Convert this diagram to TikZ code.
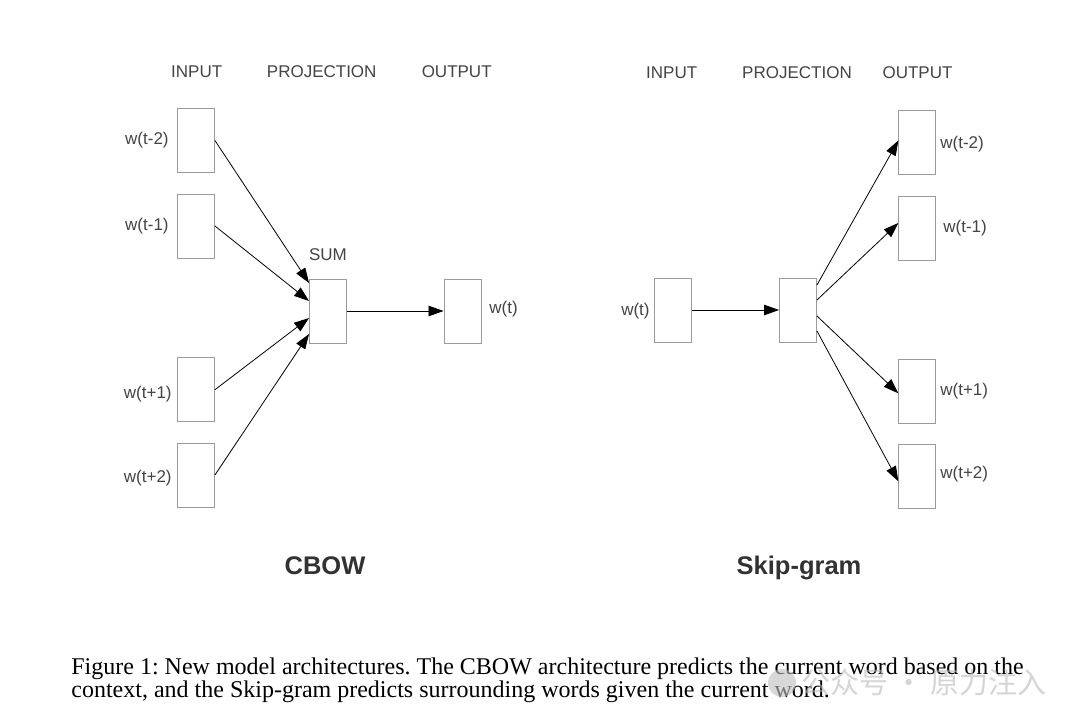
\documentclass[tikz,border=0pt]{standalone}
\usepackage{fontspec}
\setmainfont{Liberation Serif}
\newfontfamily\arialfont{Liberation Sans}
\newfontfamily\cjkfont{Noto Sans CJK SC}
\usetikzlibrary{arrows.meta,calc,positioning}

\definecolor{boxgray}{RGB}{155,155,155}
\definecolor{labelgray}{RGB}{68,68,68}
\definecolor{titlegray}{RGB}{50,50,50}

\tikzset{every picture/.style={line width=0.75pt}}
\tikzset{
	wordbox/.style={draw=boxgray, line width=0.9pt, minimum width=37pt, minimum height=64pt, inner sep=0pt},
	lbl/.style={text=labelgray, font=\arialfont\fontsize{17}{20}\selectfont, inner sep=0pt},
	modeltitle/.style={text=titlegray, font=\arialfont\bfseries\fontsize{25.5}{30}\selectfont, inner sep=0pt, anchor=base},
	captionline/.style={font=\fontsize{24}{23}\selectfont\frenchspacing, inner sep=0pt, anchor=base west},
	flow/.style={draw=black, line width=0.8pt, -{Triangle[length=15pt,width=10.5pt]}}}

\begin{document}
\begin{tikzpicture}[x=1pt,y=1pt,yscale=-1]
	\fill[white] (0,0) rectangle (1080,725);
	\useasboundingbox (0,0) rectangle (1080,725);

	%%% CBOW

	% Text Node
	\node[lbl] (cinput) at (196.7,72) {INPUT};
	% Text Node
	\node[lbl] (cproj) at (321.7,72) {PROJECTION};
	% Text Node
	\node[lbl] (coutput) at (456.7,72) {OUTPUT};

	%Shape: Rectangle
	\node[wordbox] (cin1) at (196,140.5) {};
	\node[wordbox] (cin2) at (196,226) {};
	\node[wordbox] (cin3) at (196,389.7) {};
	\node[wordbox] (cin4) at (196,475) {};
	\node[wordbox] (csum) at (328,311) {};
	\node[wordbox] (cout) at (462.5,311) {};

	% Text Node
	\node[lbl, anchor=east] (lcin1) at (169,140) {w(t-2)};
	\node[lbl, anchor=east] (lcin2) at (169,226) {w(t-1)};
	\node[lbl, anchor=east] (lcin3) at (172,394) {w(t+1)};
	\node[lbl, anchor=east] (lcin4) at (172,478) {w(t+2)};
	\node[lbl] (lsum) at (328,255) {SUM};
	\node[lbl, anchor=west] (lcout) at (489,309) {w(t)};

	%Straight Lines
	\draw[flow] (cin1.east) -- ($(csum.west)+(0,-28)$);
	\draw[flow] (cin2.east) -- ($(csum.west)+(0,-10)$);
	\draw[flow] (cin3.east) -- ($(csum.west)+(0,7)$);
	\draw[flow] (cin4.east) -- ($(csum.west)+(0,23)$);
	\draw[flow] (csum.east) -- (cout.west);

	% Text Node
	\node[modeltitle] (cbow) at (325,574) {CBOW};

	%%% Skip-gram

	% Text Node
	\node[lbl] (sinput) at (671.7,73) {INPUT};
	% Text Node
	\node[lbl] (sproj) at (797,73) {PROJECTION};
	% Text Node
	\node[lbl] (soutput) at (917.5,73) {OUTPUT};

	%Shape: Rectangle
	\node[wordbox] (sin) at (673,310) {};
	\node[wordbox] (sproj) at (798,310) {};
	\node[wordbox] (sout1) at (917.3,142.5) {};
	\node[wordbox] (sout2) at (917.3,228) {};
	\node[wordbox] (sout3) at (917.3,391.3) {};
	\node[wordbox] (sout4) at (917.3,476.3) {};

	% Text Node
	\node[lbl, anchor=east] (lsin) at (650,311) {w(t)};
	\node[lbl, anchor=west] (lsout1) at (940,144) {w(t-2)};
	\node[lbl, anchor=west] (lsout2) at (943,228) {w(t-1)};
	\node[lbl, anchor=west] (lsout3) at (940,391) {w(t+1)};
	\node[lbl, anchor=west] (lsout4) at (940,474) {w(t+2)};

	%Straight Lines
	\draw[flow] (sin.east) -- (sproj.west);
	\draw[flow] ($(sproj.east)+(0,-25)$) -- ($(sout1.west)+(0,-2)$);
	\draw[flow] ($(sproj.east)+(0,-10)$) -- ($(sout2.west)+(0,-5)$);
	\draw[flow] ($(sproj.east)+(0,6)$) -- ($(sout3.west)+(0,2)$);
	\draw[flow] ($(sproj.east)+(0,21)$) -- ($(sout4.west)+(0,5)$);

	% Text Node
	\node[modeltitle] (skipgram) at (799,574) {Skip-gram};

	%%% Caption

	% Text Node
	\node[captionline] (cap1) at (71,674) {Figure 1: New model architectures. The CBOW architecture predicts the current word based on the};
	\node[captionline] (cap2) at (71,697) {context, and the Skip-gram predicts surrounding words given the current word.};

	% watermark
	\fill[gray!50, opacity=0.6] (782,683) circle (14);
	\node[text=gray!55, opacity=0.6, font=\cjkfont\fontsize{29}{30}\selectfont, inner sep=0pt, anchor=west] (wmark) at (801,682) {公众号 · 原力注入};
\end{tikzpicture}
\end{document}
